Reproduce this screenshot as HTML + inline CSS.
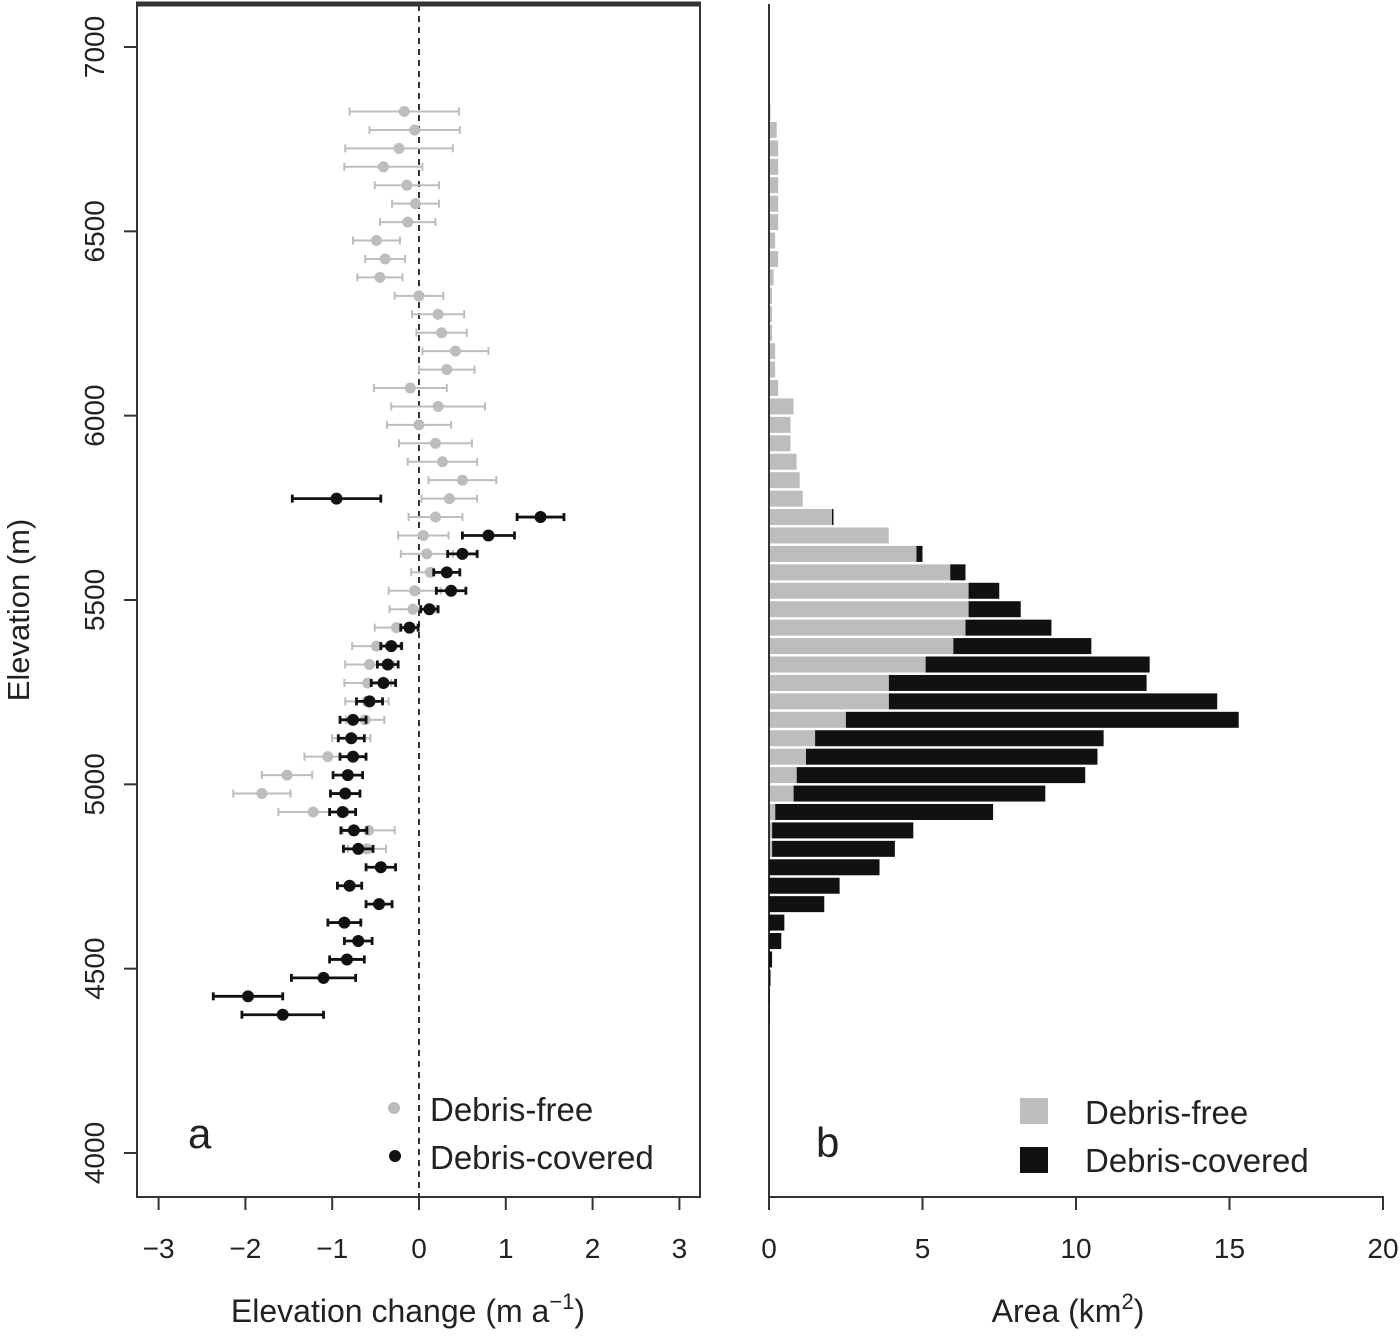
<!DOCTYPE html>
<html><head><meta charset="utf-8"><style>
html,body{margin:0;padding:0;background:#fff}
svg text{font-family:"Liberation Sans",sans-serif;fill:#222}
</style></head><body>
<svg id="chart" width="1400" height="1334" viewBox="0 0 1400 1334" xmlns="http://www.w3.org/2000/svg">
<g id="pa"></g>
<g id="pb"></g>
</svg>
<script>
// Elevation bin centres (m), 6825 down to 4375
const elevations = [6825,6775,6725,6675,6625,6575,6525,6475,6425,6375,6325,6275,6225,6175,6125,6075,6025,5975,5925,5875,5825,5775,5725,5675,5625,5575,5525,5475,5425,5375,5325,5275,5225,5175,5125,5075,5025,4975,4925,4875,4825,4775,4725,4675,4625,4575,4525,4475,4425,4375];
// Panel a: debris-free mean elevation change and error (m a-1)
const freeChange = [-0.17,-0.05,-0.23,-0.41,-0.14,-0.04,-0.13,-0.49,-0.39,-0.45,0,0.22,0.26,0.42,0.32,-0.1,0.22,0,0.19,0.27,0.5,0.35,0.19,0.05,0.09,0.13,-0.05,-0.07,-0.26,-0.49,-0.57,-0.59,-0.6,-0.62,-0.78,-1.05,-1.52,-1.81,-1.22,-0.58,-0.6,null,null,null,null,null,null,null,null,null];
const freeErr = [0.63,0.52,0.62,0.45,0.37,0.27,0.32,0.27,0.23,0.26,0.28,0.3,0.29,0.38,0.32,0.42,0.54,0.37,0.42,0.4,0.39,0.32,0.31,0.29,0.3,0.22,0.3,0.27,0.25,0.28,0.28,0.27,0.25,0.22,0.22,0.27,0.29,0.33,0.4,0.3,0.22,null,null,null,null,null,null,null,null,null];
// Panel a: debris-covered mean elevation change and error
const coverChange = [null,null,null,null,null,null,null,null,null,null,null,null,null,null,null,null,null,null,null,null,null,-0.95,1.4,0.8,0.5,0.32,0.37,0.12,-0.11,-0.32,-0.36,-0.41,-0.57,-0.76,-0.78,-0.76,-0.82,-0.85,-0.88,-0.75,-0.7,-0.44,-0.8,-0.46,-0.86,-0.7,-0.83,-1.1,-1.97,-1.57];
const coverErr = [null,null,null,null,null,null,null,null,null,null,null,null,null,null,null,null,null,null,null,null,null,0.51,0.27,0.3,0.17,0.15,0.17,0.1,0.1,0.12,0.12,0.14,0.15,0.15,0.15,0.15,0.17,0.17,0.15,0.15,0.17,0.17,0.14,0.15,0.19,0.16,0.2,0.37,0.4,0.47];
// Panel b: area (km2)
const freeArea = [0.05,0.25,0.3,0.3,0.3,0.3,0.3,0.2,0.3,0.15,0.1,0.1,0.1,0.2,0.2,0.3,0.8,0.7,0.7,0.9,1.0,1.1,2.05,3.9,4.8,5.9,6.5,6.5,6.4,6.0,5.1,3.9,3.9,2.5,1.5,1.2,0.9,0.8,0.2,0.1,0.1,0,0,0,0,0,0,0,0,0];
const totalArea = [0.05,0.25,0.3,0.3,0.3,0.3,0.3,0.2,0.3,0.15,0.1,0.1,0.1,0.2,0.2,0.3,0.8,0.7,0.7,0.9,1.0,1.1,2.1,3.9,5.0,6.4,7.5,8.2,9.2,10.5,12.4,12.3,14.6,15.3,10.9,10.7,10.3,9.0,7.3,4.7,4.1,3.6,2.3,1.8,0.5,0.4,0.1,0.05,0.03,0.02];
const yTicks = [4000,4500,5000,5500,6000,6500,7000];
const xTicksA = [-3,-2,-1,0,1,2,3];
const xTicksB = [0,5,10,15,20];

const NS="http://www.w3.org/2000/svg";
function mk(parent,tag,attrs,text){const e=document.createElementNS(NS,tag);for(const k in attrs)e.setAttribute(k,attrs[k]);if(text!==undefined)e.textContent=text;parent.appendChild(e);return e;}
const yS = v => 1153 - (v-4000)*0.36867;
const xA = v => 419 + v*86.8;
const xB = v => 769 + v*30.7;
const pa=document.getElementById('pa'), pb=document.getElementById('pb');

let f=mk(pa,'rect',{x:137,y:4,width:563,height:1193,fill:'none',stroke:'#333','stroke-width':2});


let ft=mk(pa,'line',{x1:136,x2:701,y1:4,y2:4,stroke:'#333','stroke-width':5});


let zl=mk(pa,'line',{x1:xA(0),x2:xA(0),y1:5,y2:1196,stroke:'#333','stroke-width':2,'stroke-dasharray':'6,5'});


yTicks.forEach(t=>{
  const y=yS(t);
  let tk=mk(pa,'line',{x1:124,x2:137,y1:y,y2:y,stroke:'#333','stroke-width':2});
  
  
  let tl=mk(pa,'text',{x:0,y:0,'font-size':28,'text-anchor':'middle',transform:`translate(104,${y}) rotate(-90)`},String(t));
  
  
});
xTicksA.forEach(t=>{
  const x=xA(t);
  let tk=mk(pa,'line',{x1:x,x2:x,y1:1197,y2:1210,stroke:'#333','stroke-width':2});
  
  
  let tl=mk(pa,'text',{x:x,y:1258,'font-size':28,'text-anchor':'middle'},(t<0?'\u2212'+(-t):String(t)));
  
  
});
let yt=mk(pa,'text',{x:0,y:0,'font-size':31,'text-anchor':'middle',transform:'translate(29,610) rotate(-90)'},'Elevation (m)');


let xt=mk(pa,'text',{x:408,y:1322,'font-size':32,'text-anchor':'middle'});


xt.innerHTML='Elevation change (m a<tspan dy="-13" font-size="22">\u22121</tspan><tspan dy="13">)</tspan>';

function drawPoint(g,v,err,y,col,sw,r,name){
  if(v===null)return;
  const grp=mk(g,'g',{});
  
  
  const x1=xA(v-err),x2=xA(v+err);
  mk(grp,'line',{x1:x1,x2:x2,y1:y,y2:y,stroke:col,'stroke-width':sw});
  mk(grp,'line',{x1:x1,x2:x1,y1:y-4,y2:y+4,stroke:col,'stroke-width':sw});
  mk(grp,'line',{x1:x2,x2:x2,y1:y-4,y2:y+4,stroke:col,'stroke-width':sw});
  mk(grp,'circle',{cx:xA(v),cy:y,r:r,fill:col});
}
elevations.forEach((e,i)=>drawPoint(pa,freeChange[i],freeErr[i],yS(e),'#bdbdbd',2,5.5,'debris-free-point'));
elevations.forEach((e,i)=>drawPoint(pa,coverChange[i],coverErr[i],yS(e),'#111',2.8,6,'debris-covered-point'));

let lg=mk(pa,'g',{});


mk(lg,'circle',{cx:394,cy:1108,r:6,fill:'#bdbdbd'});
mk(lg,'text',{x:430,y:1121,'font-size':33},'Debris-free');
mk(lg,'circle',{cx:395,cy:1156,r:6,fill:'#111'});
mk(lg,'text',{x:430,y:1169,'font-size':33},'Debris-covered');
let la=mk(pa,'text',{x:188,y:1148,'font-size':42},'a');



let ax=mk(pb,'line',{x1:769,x2:769,y1:4,y2:1197,stroke:'#333','stroke-width':2});


let bx=mk(pb,'line',{x1:768,x2:xB(20)+1,y1:1197,y2:1197,stroke:'#333','stroke-width':2});


xTicksB.forEach(t=>{
  const x=xB(t);
  let tk=mk(pb,'line',{x1:x,x2:x,y1:1197,y2:1210,stroke:'#333','stroke-width':2});
  
  
  let tl=mk(pb,'text',{x:x,y:1258,'font-size':28,'text-anchor':'middle'},String(t));
  
  
});
let xtb=mk(pb,'text',{x:1068,y:1322,'font-size':32,'text-anchor':'middle'});


xtb.innerHTML='Area (km<tspan dy="-13" font-size="22">2</tspan><tspan dy="13">)</tspan>';
elevations.forEach((e,i)=>{
  const y=yS(e)-8;
  if(totalArea[i]>freeArea[i]){
    let b=mk(pb,'rect',{x:xB(freeArea[i]),y:y,width:xB(totalArea[i])-xB(freeArea[i]),height:16,fill:'#111'});
    
    
  }
  if(freeArea[i]>0){
    let b=mk(pb,'rect',{x:770,y:y,width:xB(freeArea[i])-770,height:16,fill:'#bdbdbd'});
    
    
  }
});
let lgb=mk(pb,'g',{});


mk(lgb,'rect',{x:1020,y:1098,width:28,height:26,fill:'#bdbdbd'});
mk(lgb,'text',{x:1085,y:1124,'font-size':33},'Debris-free');
mk(lgb,'rect',{x:1020,y:1147,width:28,height:26,fill:'#111'});
mk(lgb,'text',{x:1085,y:1172,'font-size':33},'Debris-covered');
let lb=mk(pb,'text',{x:816,y:1157,'font-size':42},'b');


</script>
</body></html>
